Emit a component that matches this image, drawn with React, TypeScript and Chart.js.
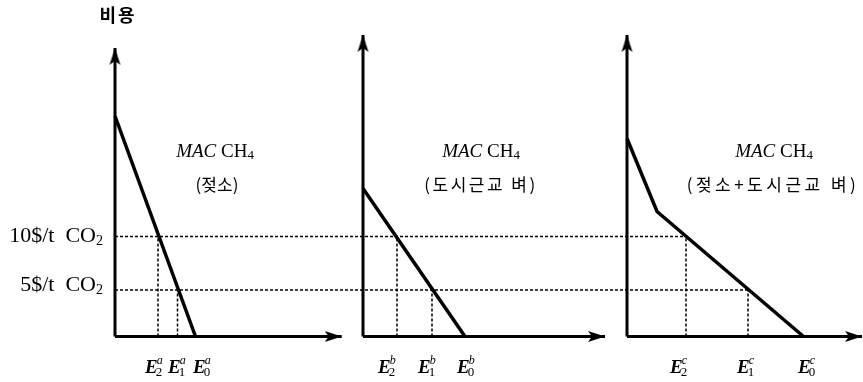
import React, { useEffect, useRef } from 'react';
import { Chart, registerables } from 'chart.js';

Chart.register(...registerables);

// ---------------- data (schematic units) ----------------
const PANEL_NAMES = ['젖소', '도시근교 벼', '젖소+도시근교 벼'];
const PANEL_KEYS = ['a', 'b', 'c'];
const Y_AXIS_TITLE = '비용';
const CURVE_TITLE = 'MAC';
const GAS = 'CH';
const GAS_SUB = '4';

// price (cost) levels: 10$/t CO2 and 5$/t CO2
const PRICE_TEXT = ['10$/t  CO', '5$/t  CO'];
const PRICE_SUB = ['2', '2'];
const PRICE_LEVELS = [100, 46.5];

// MAC curves: emission-reduction values and cost values
const MAC_A_E = [0, 80.5];
const MAC_A_COST = [220.5, 0];
const MAC_B_E = [0, 102];
const MAC_B_COST = [148, 0];
const MAC_C_E = [0, 30, 176.5];
const MAC_C_COST = [198, 125, 0];

// E2, E1, E0 for each panel
const E_INDEX = ['2', '1', '0'];
const E_A = [43, 62.5, 80.5];
const E_B = [34, 69, 102];
const E_C = [59, 121, 176.5];

// ---------------- layout (positions / sizes / styles) ----------------
const LAYOUT = {
  width: 863,
  height: 382,
  xMin: 0,
  xMax: 863,
  yMin: -45.5,
  yMax: 336.5,
  panelX: [115, 363, 627],
  axisTop: [288.5, 301.5, 301.5],
  axisRight: [226.7, 242, 235],
  titleX: [100, 118, 147],
  subtitleX: [102, 118, 146],
  subtitleSpacing: ['0px', '2.5px', '3.5px'],
  titleY: 179.5,
  subtitleY: 151.5,
  eLabelX: [
    [30, 53, 78],
    [15, 55, 94],
    [43, 110, 171],
  ],
  eLabelY: -36.5,
  priceLabelX: -12,
  priceLabelDy: [5.5, 1],
  yTitleX: 3,
  yTitleY: 321.5,
};

const SERIF = '"Liberation Serif", "Times New Roman", serif';
const KR = '"Noto Sans CJK KR", sans-serif';

function makeArrow(len: number, width: number, notch: number): HTMLCanvasElement {
  const c = document.createElement('canvas');
  c.width = Math.ceil(width) + 2;
  c.height = len * 2;
  const g = c.getContext('2d')!;
  const cx = c.width / 2;
  g.fillStyle = '#000';
  g.beginPath();
  g.moveTo(cx, len);
  g.lineTo(cx + width / 2, len * 2);
  g.lineTo(cx, len * 2 - notch);
  g.lineTo(cx - width / 2, len * 2);
  g.closePath();
  g.fill();
  return c;
}

type Run = { t: string; f: string; dy?: number };

function drawRuns(ctx: CanvasRenderingContext2D, runs: Run[], x: number, y: number, align: 'left' | 'center' | 'right') {
  const widths = runs.map((r) => {
    ctx.font = r.f;
    return ctx.measureText(r.t).width;
  });
  const total = widths.reduce((a, b) => a + b, 0);
  let cx = align === 'left' ? x : align === 'center' ? x - total / 2 : x - total;
  ctx.textAlign = 'left';
  ctx.textBaseline = 'alphabetic';
  runs.forEach((r, i) => {
    ctx.font = r.f;
    ctx.fillText(r.t, cx, y + (r.dy || 0));
    cx += widths[i];
  });
}

const textPlugin = {
  id: 'diagramText',
  afterDatasetsDraw(chart: any) {
    const { ctx, scales } = chart;
    const X = (v: number) => scales.x.getPixelForValue(v);
    const Y = (v: number) => scales.y.getPixelForValue(v);
    ctx.save();
    ctx.fillStyle = '#000';

    // y-axis title
    ctx.font = `bold 18px ${KR}`;
    ctx.textAlign = 'center';
    ctx.textBaseline = 'middle';
    (ctx as any).letterSpacing = '2px';
    ctx.fillText(Y_AXIS_TITLE, X(LAYOUT.panelX[0] + LAYOUT.yTitleX), Y(LAYOUT.yTitleY));
    (ctx as any).letterSpacing = '0px';

    // price labels
    PRICE_LEVELS.forEach((lvl, i) => {
      drawRuns(
        ctx,
        [
          { t: PRICE_TEXT[i], f: `22px ${SERIF}` },
          { t: PRICE_SUB[i], f: `14px ${SERIF}`, dy: 3 },
        ],
        X(LAYOUT.panelX[0] + LAYOUT.priceLabelX),
        Y(lvl) + LAYOUT.priceLabelDy[i],
        'right'
      );
    });

    const eSets = [E_A, E_B, E_C];
    PANEL_NAMES.forEach((name, p) => {
      const ox = LAYOUT.panelX[p];
      drawRuns(
        ctx,
        [
          { t: CURVE_TITLE, f: `italic 19px ${SERIF}` },
          { t: ' ' + GAS, f: `19px ${SERIF}` },
          { t: GAS_SUB, f: `13px ${SERIF}`, dy: 2 },
        ],
        X(ox + LAYOUT.titleX[p]),
        Y(LAYOUT.titleY),
        'center'
      );
      ctx.font = `17px ${KR}`;
      ctx.textAlign = 'center';
      ctx.textBaseline = 'middle';
      (ctx as any).letterSpacing = LAYOUT.subtitleSpacing[p];
      ctx.fillText(`(${name})`, X(ox + LAYOUT.subtitleX[p]), Y(LAYOUT.subtitleY));
      (ctx as any).letterSpacing = '0px';

      // E labels
      eSets[p].forEach((_, k) => {
        const lx = X(ox + LAYOUT.eLabelX[p][k]);
        const ly = Y(LAYOUT.eLabelY);
        ctx.textAlign = 'left';
        ctx.textBaseline = 'alphabetic';
        ctx.font = `italic bold 19px ${SERIF}`;
        ctx.fillText('E', lx, ly);
        const w = ctx.measureText('E').width;
        ctx.font = `italic 12px ${SERIF}`;
        ctx.fillText(PANEL_KEYS[p], lx + w - 1, ly - 9);
        ctx.font = `13px ${SERIF}`;
        ctx.fillText(E_INDEX[k], lx + w - 2, ly + 3);
      });
    });
    ctx.restore();
  },
};

export default function App() {
  const ref = useRef<HTMLCanvasElement | null>(null);

  useEffect(() => {
    document.body.style.margin = '0';
    const canvas = ref.current;
    if (!canvas) return;

    const arrow = makeArrow(17, 11, 4);
    const datasets: any[] = [];
    const solid = (data: any[], width: number) => ({
      data,
      showLine: true,
      borderColor: '#000',
      backgroundColor: '#000',
      borderWidth: width,
      pointRadius: 0,
      pointHoverRadius: 0,
      borderJoinStyle: 'miter',
      borderCapStyle: 'butt',
      clip: false,
    });
    const arrowLine = (data: any[], rot: number) => ({
      ...solid(data, 3),
      pointRadius: [0, 1],
      pointStyle: ['circle', arrow],
      rotation: [0, rot],
    });
    const dotted = (data: any[]) => ({
      ...solid(data, 1.5),
      borderDash: [3, 2],
    });

    const curves = [
      [MAC_A_E, MAC_A_COST],
      [MAC_B_E, MAC_B_COST],
      [MAC_C_E, MAC_C_COST],
    ];
    const eSets = [E_A, E_B, E_C];

    LAYOUT.panelX.forEach((ox, p) => {
      datasets.push(arrowLine([{ x: ox, y: 0 }, { x: ox, y: LAYOUT.axisTop[p] }], 0));
      datasets.push(arrowLine([{ x: ox, y: 0 }, { x: ox + LAYOUT.axisRight[p], y: 0 }], 90));
      const [es, cs] = curves[p];
      datasets.push(solid(es.map((e, i) => ({ x: ox + e, y: cs[i] })), 3.5));
    });

    LAYOUT.panelX.forEach((ox, p) => {
      PRICE_LEVELS.forEach((lvl, i) => {
        datasets.push(dotted([{ x: ox + eSets[p][i], y: 0 }, { x: ox + eSets[p][i], y: lvl }]));
      });
    });
    PRICE_LEVELS.forEach((lvl, i) => {
      datasets.push(
        dotted([
          { x: LAYOUT.panelX[0], y: lvl },
          { x: LAYOUT.panelX[2] + E_C[i], y: lvl },
        ])
      );
    });

    const chart = new Chart(canvas, {
      type: 'scatter',
      data: { datasets },
      options: {
        animation: false,
        responsive: false,
        events: [],
        layout: { padding: 0, autoPadding: false },
        plugins: { legend: { display: false }, tooltip: { enabled: false } },
        scales: {
          x: { type: 'linear', min: LAYOUT.xMin, max: LAYOUT.xMax, display: false },
          y: { type: 'linear', min: LAYOUT.yMin, max: LAYOUT.yMax, display: false },
        },
      },
      plugins: [textPlugin],
    } as any);

    return () => chart.destroy();
  }, []);

  return (
    <div style={{ width: LAYOUT.width, height: LAYOUT.height, background: '#fff' }}>
      <canvas ref={ref} width={LAYOUT.width} height={LAYOUT.height} style={{ display: 'block' }} />
    </div>
  );
}
